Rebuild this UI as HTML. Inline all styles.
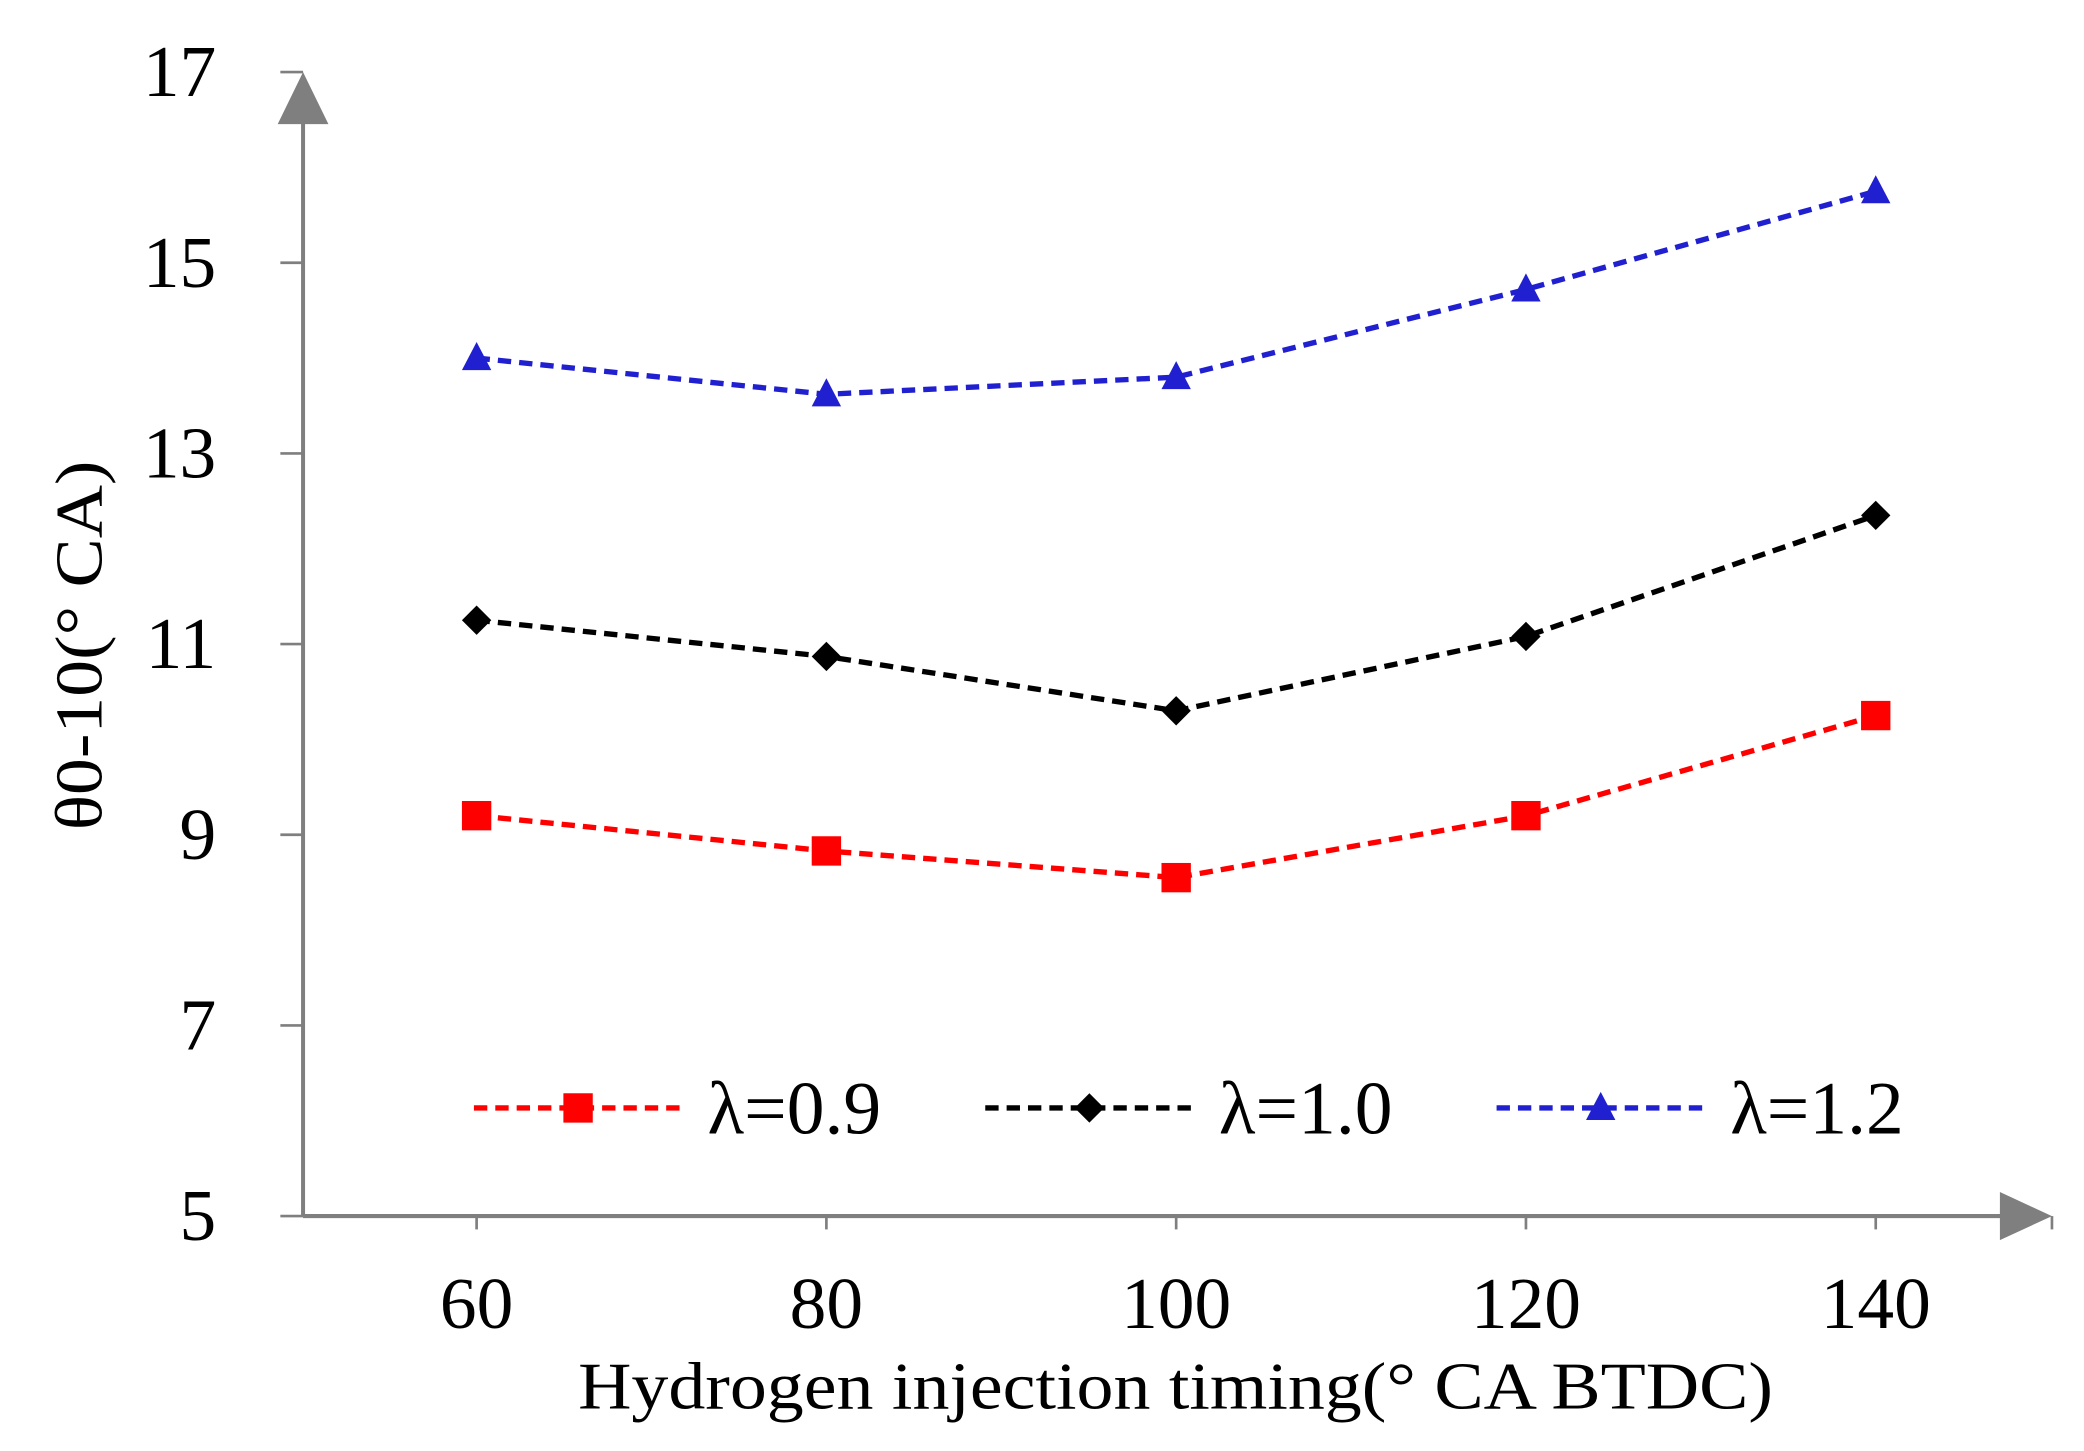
<!DOCTYPE html>
<html><head><meta charset="utf-8"><style>html,body{margin:0;padding:0;background:#fff}svg{display:block}</style></head>
<body>
<svg id="chart" width="2084" height="1451" viewBox="0 0 1561 1087" preserveAspectRatio="none" xmlns="http://www.w3.org/2000/svg" font-family="Liberation Serif, serif">
<g id="axes"></g>
<g id="marks"></g>
<g id="legend"></g>
</svg>
<script>
const categories = [60, 80, 100, 120, 140];
const yTicks = [5, 7, 9, 11, 13, 15, 17];
const seriesNames = ['λ=0.9', 'λ=1.0', 'λ=1.2'];
const red09 = [9.2, 8.83, 8.55, 9.2, 10.25];
const black10 = [11.25, 10.87, 10.3, 11.08, 12.35];
const blue12 = [14.0, 13.62, 13.8, 14.72, 15.75];

const NS='http://www.w3.org/2000/svg';
function xs(v){return 357+(v-60)*(1405-357)/80;}
function ys(v){return 911-(v-5)*(911-54)/12;}
function mk(tag,attrs,parent){const e=document.createElementNS(NS,tag);for(const k in attrs)e.setAttribute(k,attrs[k]);parent.appendChild(e);return e;}
const axes=document.getElementById('axes'),marks=document.getElementById('marks'),legend=document.getElementById('legend');
const gray='#7f7f7f';
let l=mk('line',{x1:227,y1:911,x2:1505,y2:911,stroke:gray,'stroke-width':3},axes);

l=mk('polygon',{points:'1498,893 1537,911 1498,929',fill:gray},axes);

l=mk('line',{x1:227,y1:911,x2:227,y2:88,stroke:gray,'stroke-width':3},axes);

l=mk('polygon',{points:'208,93 227,54 246,93',fill:gray},axes);

l=mk('line',{x1:1537,y1:911,x2:1537,y2:921,stroke:gray,'stroke-width':2},axes);

categories.forEach(c=>{
  let t=mk('line',{x1:xs(c),y1:911,x2:xs(c),y2:921,stroke:gray,'stroke-width':2},axes);
  
  let tx=mk('text',{x:xs(c),y:995,'font-size':55,'text-anchor':'middle',fill:'#000'},axes);tx.textContent=c;
  
});
yTicks.forEach(v=>{
  let t=mk('line',{x1:210,y1:ys(v),x2:227,y2:ys(v),stroke:gray,'stroke-width':2},axes);
  
  let tx=mk('text',{x:162,y:ys(v)+18,'font-size':55,'text-anchor':'end',fill:'#000'},axes);tx.textContent=v;
  
});
let xt=mk('text',{x:433,y:1055,'font-size':50,textLength:895,lengthAdjust:'spacingAndGlyphs',fill:'#000'},axes);xt.textContent='Hydrogen injection timing(°  CA BTDC)';

let yt=mk('text',{x:0,y:0,'font-size':50,textLength:277,lengthAdjust:'spacingAndGlyphs',fill:'#000',transform:'translate(76,622) rotate(-90)'},axes);yt.textContent='θ0-10(°  CA)';


function marker(type,x,y,color,parent){
  let m;
  if(type==='square')m=mk('rect',{x:x-11,y:y-11,width:22,height:22,fill:color},parent);
  else if(type==='diamond')m=mk('polygon',{points:`${x},${y-11} ${x+11},${y} ${x},${y+11} ${x-11},${y}`,fill:color},parent);
  else m=mk('polygon',{points:`${x},${y-12} ${x+11},${y+9} ${x-11},${y+9}`,fill:color},parent);
  return m;
}
const series=[[red09,'#ff0000','square'],[black10,'#000000','diamond'],[blue12,'#2020d0','triangle']];
series.forEach((s,i)=>{
  const [vals,color,type]=s;
  const g=mk('g',{},marks);
  
  const pts=vals.map((v,j)=>xs(categories[j])+','+ys(v)).join(' ');
  let p=mk('polyline',{points:pts,fill:'none',stroke:color,'stroke-width':4,'stroke-dasharray':'10,6'},g);
  
  vals.forEach((v,j)=>{
    let m=marker(type,xs(categories[j]),ys(v),color,g);
    
  });
  const lx=355+i*383,ly=830;
  const lg=mk('g',{},legend);
  
  mk('line',{x1:lx,y1:ly,x2:lx+155,y2:ly,stroke:color,'stroke-width':4,'stroke-dasharray':'10,6'},lg);
  marker(type,lx+78,ly,color,lg);
  let tx=mk('text',{x:lx+175,y:ly+19,'font-size':56,textLength:130,lengthAdjust:'spacingAndGlyphs',fill:'#000'},lg);tx.textContent=seriesNames[i];
  
});
</script>
</body></html>
